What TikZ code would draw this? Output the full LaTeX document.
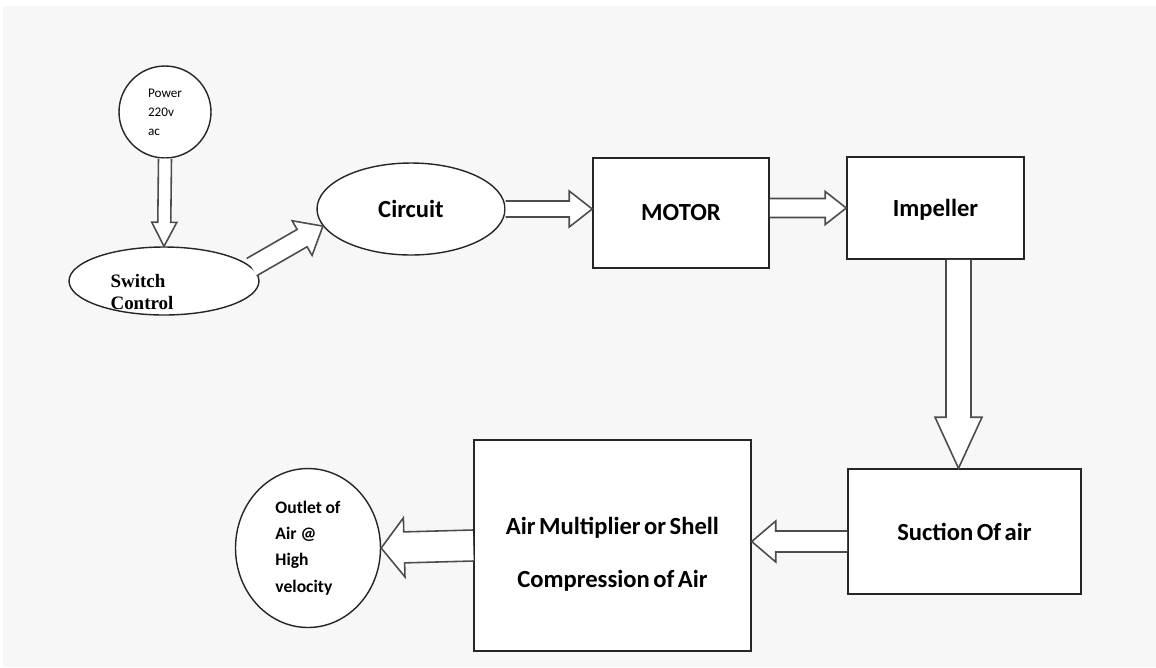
\documentclass[tikz,border=0pt]{standalone}
\usepackage{fontspec}
\setmainfont{Carlito}
\newfontfamily\switchfont{Liberation Serif}
\usetikzlibrary{shapes.geometric,calc}

% narrow word spaces as in the drawing
\newcommand{\tightsp}{\spaceskip=2pt plus 1pt\relax}

% hollow block arrow: from, to, half shaft, half head, head length (in px)
\newcommand{\blockarrow}[5]{%
  \coordinate (hb) at ($(#2)!#5*0.02cm!(#1)$);
  \draw[barrow] ($(#1)!#3*0.02cm!90:(#2)$) -- ($(hb)!#3*0.02cm!-90:(#1)$)
    -- ($(hb)!#4*0.02cm!-90:(#1)$) -- (#2) -- ($(hb)!#4*0.02cm!90:(#1)$)
    -- ($(hb)!#3*0.02cm!90:(#1)$) -- ($(#1)!#3*0.02cm!-90:(#2)$);
}

\begin{document}
\begin{tikzpicture}[x=0.02cm, y=-0.02cm,
    blk/.style={draw=black!85, line width=0.9pt, fill=white, font=\fontsize{14}{17}\selectfont\bfseries},
    oval/.style={draw=black!85, line width=0.8pt, fill=white, ellipse, inner sep=0pt},
    barrow/.style={draw=black!70, line width=0.9pt, fill=white, line join=miter}]
  \fill[white] (0,0) rectangle (1156,667);
  \fill[black!3] (3,6) rectangle (1156,667);
  \useasboundingbox (0,0) rectangle (1156,667);

  % sources
  \node[oval, circle, minimum size=1.84cm, align=left, font=\fontsize{7.5}{10.8}\selectfont] (power) at (165,112) {Power\\220v\\ac};
  \node[oval, minimum width=3.8cm, minimum height=1.36cm] (switch) at (164,281) {};
  \node[align=left, font=\switchfont\bfseries\fontsize{10.8}{13}\selectfont] (switch-txt) at (142,292) {Switch\\Control};
  \node[oval, minimum width=3.76cm, minimum height=1.84cm, font=\fontsize{14}{17}\selectfont\bfseries] (circuit) at (411,209) {Circuit};

  % blocks
  \node[blk, minimum width=3.52cm, minimum height=2.2cm] (motor) at (681,213) {MOTOR};
  \node[blk, minimum width=3.54cm, minimum height=2.04cm, text depth=0pt] (impeller) at (935.5,208) {Impeller};
  \node[blk, minimum width=4.66cm, minimum height=2.5cm] (suction) at (964.5,531.5) {\tightsp Suction Of air};
  \node[blk, minimum width=5.54cm, minimum height=4.22cm, align=center] (multiplier) at (612.5,545.5) {\tightsp\rule{0pt}{20pt}Air Multiplier or Shell\\[13pt]\tightsp Compression of Air};
  \node[oval, minimum width=2.9cm, minimum height=3.18cm, align=left, font=\bfseries\fontsize{10}{15}\selectfont] (outlet) at (308,548) {\tightsp Outlet of\\Air @\\High\\velocity};

  % arrows
  \blockarrow{power.south}{switch.north}{6.5}{12.5}{24}
  \blockarrow{switch.9}{circuit.191}{10}{20}{24}
  \coordinate (m-in) at (motor.west |- circuit.east);
  \blockarrow{circuit.east}{m-in}{8}{18}{23}
  \coordinate (m-out) at (motor.east |- impeller.west);
  \blockarrow{m-out}{impeller.west}{9.5}{16.5}{21}
  \coordinate (s-in) at ($(suction.north)+(-6,0)$);
  \coordinate (i-out) at (impeller.south -| s-in);
  \blockarrow{i-out}{s-in}{12.5}{23.5}{51}
  \coordinate (s-out) at ($(suction.west)+(0,10)$);
  \coordinate (a-in) at (multiplier.east |- s-out);
  \blockarrow{s-out}{a-in}{10.5}{20.5}{24}
  \blockarrow{multiplier.west}{outlet.east}{15.5}{29.5}{23}
\end{tikzpicture}
\end{document}
